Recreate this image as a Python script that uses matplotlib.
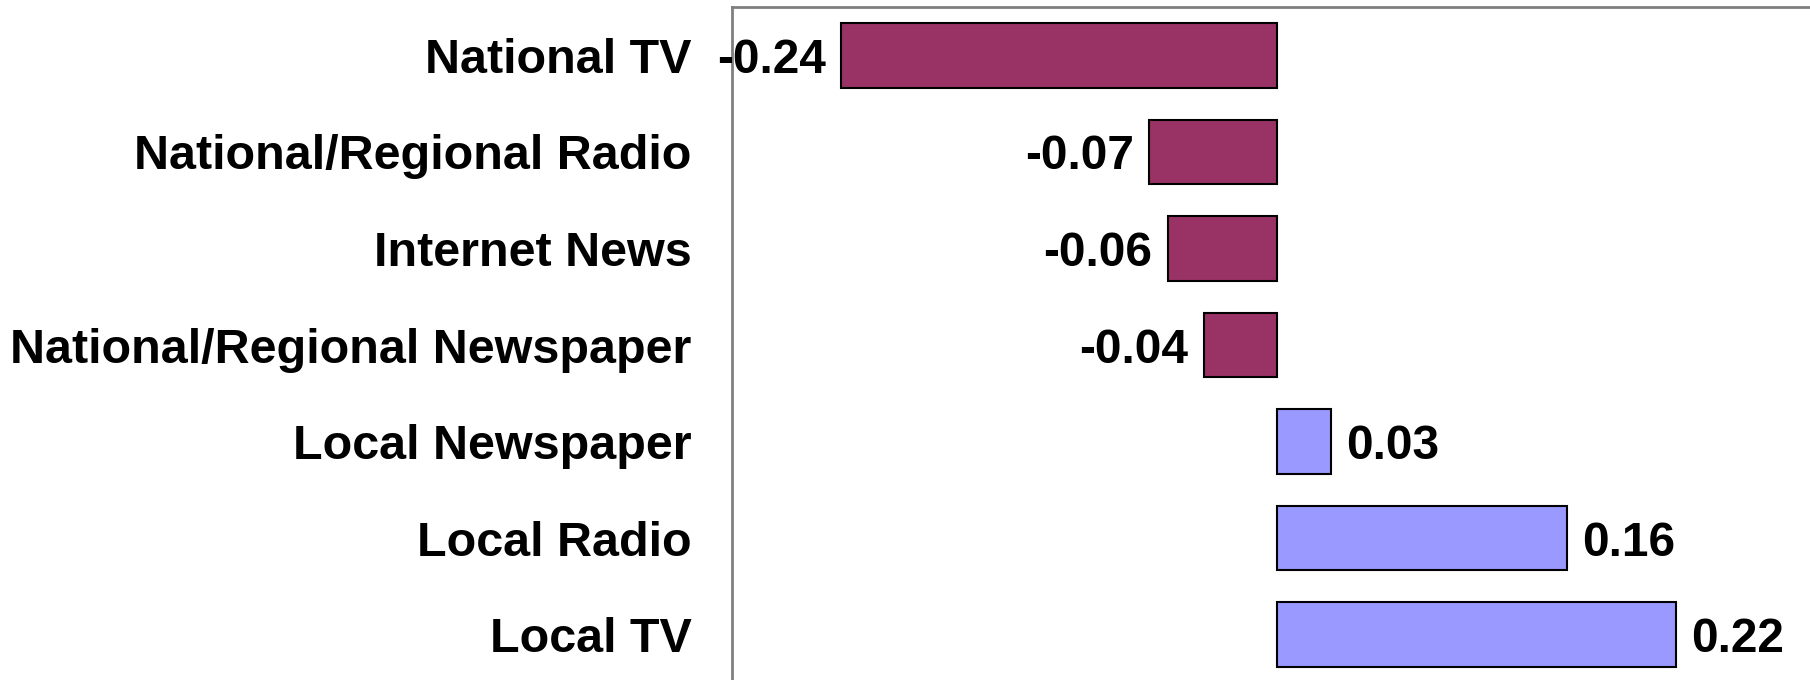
import numpy as np
import matplotlib
matplotlib.use('Agg')
import matplotlib.pyplot as plt

# data, top to bottom as in the chart
categories = ['National TV', 'National/Regional Radio', 'Internet News',
              'National/Regional Newspaper', 'Local Newspaper', 'Local Radio', 'Local TV']
values = [-0.24, -0.07, -0.06, -0.04, 0.03, 0.16, 0.22]

neg_color = '#993366'
pos_color = '#9999FF'

plt.rcParams['font.family'] = ['Liberation Sans', 'DejaVu Sans']
plt.rcParams['font.weight'] = 'bold'

fig = plt.figure(figsize=(18.1, 6.8), dpi=100)
ax = fig.add_axes([732/1810, -3/680, (1821-732)/1810, (683-7)/680])

y = np.arange(len(categories))
colors = [neg_color if v < 0 else pos_color for v in values]
bars = ax.barh(y, values, height=0.67, color=colors, edgecolor='black', linewidth=1.5)
labels = ax.bar_label(bars, fmt='%.2f', padding=11, fontsize=34.5, fontweight='bold')
for t in labels:
    t.set_va('center_baseline')

ax.set_yticks(y)
ax.set_yticklabels(categories, fontsize=34.9, fontweight='bold')
ax.set_ylim(len(categories) - 0.5, -0.5)
ax.set_xlim(-0.3, 0.3)
ax.set_xticks([])
ax.tick_params(axis='y', length=0, pad=29)

for s in ['top', 'left', 'right', 'bottom']:
    ax.spines[s].set_color('#808080')
    ax.spines[s].set_linewidth(2)

fig.savefig('out.png', dpi=100)
